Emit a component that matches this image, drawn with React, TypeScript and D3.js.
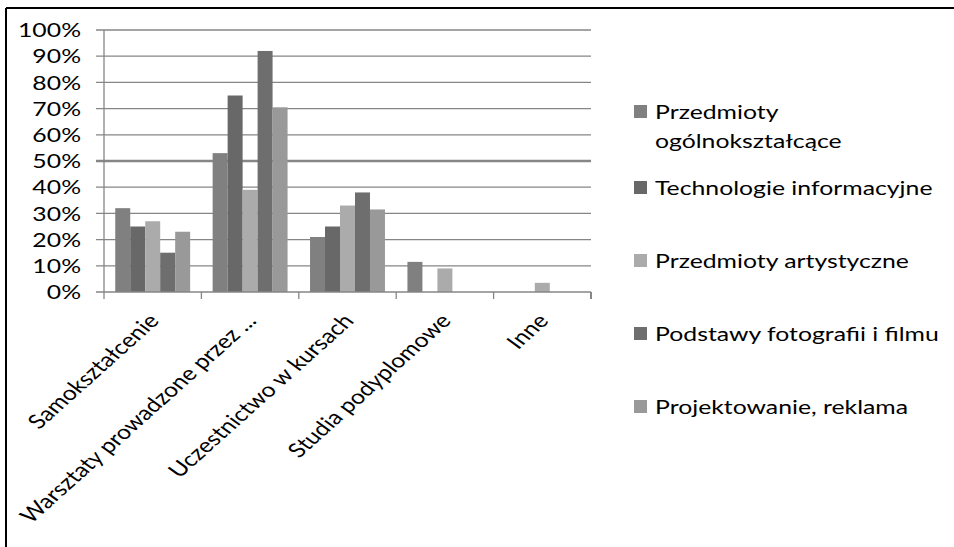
import React from "react";
import * as d3 from "d3";

const categories = [
  "Samokształcenie",
  "Warsztaty prowadzone przez ...",
  "Uczestnictwo w kursach",
  "Studia podyplomowe",
  "Inne",
];
const seriesNames = [
  "Przedmioty ogólnokształcące",
  "Technologie informacyjne",
  "Przedmioty artystyczne",
  "Podstawy fotografii i filmu",
  "Projektowanie, reklama",
];
const legendLines = [
  ["Przedmioty", "ogólnokształcące"],
  ["Technologie informacyjne"],
  ["Przedmioty artystyczne"],
  ["Podstawy fotografii i filmu"],
  ["Projektowanie, reklama"],
];
const seriesColors = ["#808080", "#686868", "#ababab", "#6e6e6e", "#999999"];
const s1 = [32, 53, 21, 11.5, 0];
const s2 = [25, 75, 25, 0, 0];
const s3 = [27, 39, 33, 9, 3.5];
const s4 = [15, 92, 38, 0, 0];
const s5 = [23, 70.5, 31.5, 0, 0];
const seriesValues = [s1, s2, s3, s4, s5];
const yTicks = [0, 10, 20, 30, 40, 50, 60, 70, 80, 90, 100];

const W = 954;
const H = 547;
const FONT = "Lato, 'Open Sans', sans-serif";
const FS = 20;
const SX = 1.24;

export default function App() {
  const left = 104, right = 591, top = 30, bottom = 292;
  const x0 = d3.scaleBand<string>().domain(categories).range([left, right]).paddingInner(0).paddingOuter(0);
  const x1 = d3
    .scaleBand<string>()
    .domain(seriesNames)
    .range([0, x0.bandwidth()])
    .paddingInner(0)
    .paddingOuter(0.75);
  const y = d3.scaleLinear().domain([0, 100]).range([bottom, top]);
  const grid = "#868686";

  const legendX = 634;
  const legendTextX = 655;
  const firstBase = 119;
  const lineGap = 29;
  const itemStep = 73;
  const secondBase = 195;
  const baseFor = (i: number) => (i === 0 ? firstBase : secondBase + (i - 1) * itemStep);

  return (
    <svg
      width={W}
      height={H}
      style={{ position: "absolute", left: 0, top: 0, background: "#fff" }}
      fontFamily={FONT}
      fontSize={FS}
    >
      <rect x={0} y={0} width={W} height={H} fill="#fff" />
      {/* outer border */}
      <line x1={6} x2={W} y1={8} y2={8} stroke="#000" strokeWidth={2} />
      <line x1={6} x2={6} y1={8} y2={H} stroke="#000" strokeWidth={2} />

      {/* gridlines + y ticks */}
      {yTicks.map((t) => (
        <g key={t}>
          {t > 0 && (
            <line
              x1={96}
              x2={right}
              y1={y(t)}
              y2={y(t)}
              stroke={grid}
              strokeWidth={t === 50 ? 2.4 : 1.3}
            />
          )}
          <text
            transform={`translate(81,${y(t)}) scale(${SX},1)`}
            textAnchor="end"
            dy="0.36em"
            fill="#000"
          >
            {t}%
          </text>
        </g>
      ))}
      {/* y axis */}
      <line x1={left} x2={left} y1={top} y2={bottom} stroke={grid} strokeWidth={1.3} />

      {/* bars */}
      {categories.map((c, ci) => (
        <g key={c} transform={`translate(${x0(c)},0)`}>
          {seriesNames.map((s, si) => {
            const v = seriesValues[si][ci];
            if (!v) return null;
            return (
              <rect
                key={s}
                x={x1(s)}
                y={y(v)}
                width={x1.bandwidth()}
                height={bottom - y(v)}
                fill={seriesColors[si]}
              />
            );
          })}
        </g>
      ))}

      {/* x axis */}
      <line x1={96} x2={right} y1={bottom} y2={bottom} stroke={grid} strokeWidth={1.3} />
      {[...categories.map((c) => x0(c) as number), right].map((xv, i) => (
        <line key={i} x1={xv} x2={xv} y1={bottom} y2={bottom + 7} stroke={grid} strokeWidth={i === categories.length ? 2 : 1.3} />
      ))}

      {/* category labels */}
      {categories.map((c) => {
        const cx = (x0(c) as number) + x0.bandwidth() / 2 + 1;
        return (
          <text
            key={c}
            transform={`translate(${cx},${bottom + 25}) scale(${SX},1) rotate(-48)`}
            textAnchor="end"
            dy="0.35em"
            fill="#000"
          >
            {c}
          </text>
        );
      })}

      {/* legend */}
      {seriesNames.map((s, i) => {
        const b = baseFor(i);
        return (
          <g key={s}>
            <rect x={legendX} y={b - 14} width={13} height={13} fill={seriesColors[i]} />
            {legendLines[i].map((ln, li) => (
              <text
                key={li}
                transform={`translate(${legendTextX},${b + li * lineGap}) scale(${SX},1)`}
                fill="#000"
              >
                {ln}
              </text>
            ))}
          </g>
        );
      })}
    </svg>
  );
}
